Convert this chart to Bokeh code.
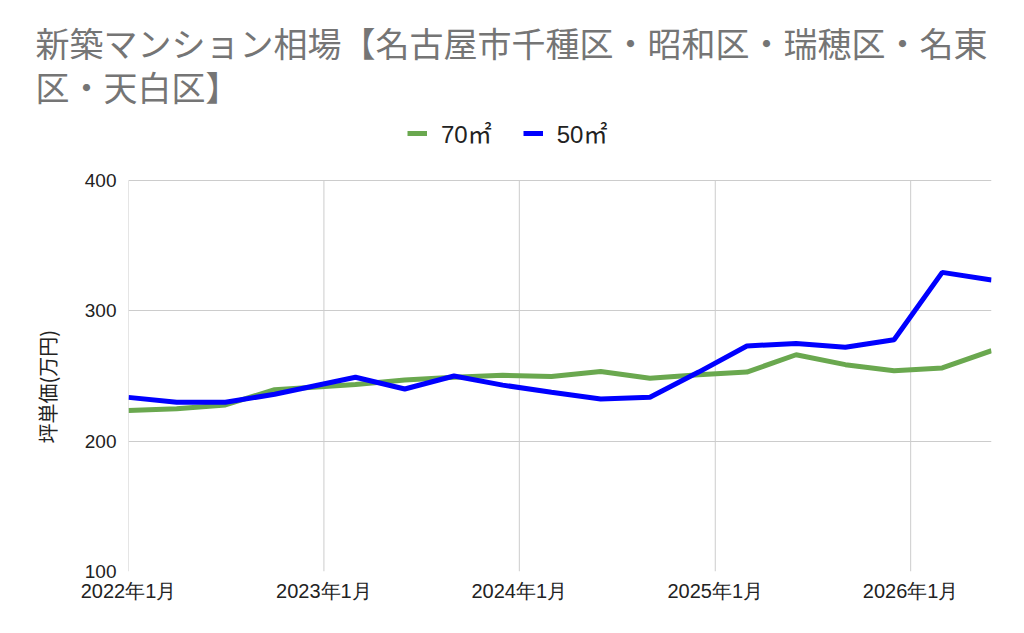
from datetime import datetime
from bokeh.plotting import figure
from bokeh.models import (FixedTicker, DatetimeTickFormatter, Title, Legend,
                          LegendItem, Range1d, ColumnDataSource)
from bokeh.embed import file_html
from bokeh.resources import INLINE

# ---- data ----
months = ["2022-01", "2022-04", "2022-07", "2022-10", "2023-03", "2023-06",
          "2023-09", "2023-12", "2024-03", "2024-06", "2024-09", "2024-12",
          "2025-03", "2025-06", "2025-09", "2025-12", "2026-03", "2026-06"]
price_70 = [223.5, 224.8, 227.8, 239.5, 243.5, 247.0, 249.0, 250.5, 249.6,
            253.5, 248.3, 251.0, 253.0, 266.3, 258.7, 254.1, 256.2, 269.4]
price_50 = [233.6, 229.8, 229.8, 236.0, 249.0, 240.0, 250.0, 243.0, 237.5,
            232.4, 233.7, 253.0, 273.0, 275.0, 272.0, 277.8, 329.5, 323.7]
year_ticks = ["2022-01", "2023-01", "2024-01", "2025-01", "2026-01"]
y_ticks = [100, 200, 300, 400]
title_line1 = "新築マンション相場【名古屋市千種区・昭和区・瑞穂区・名東"
title_line2 = "区・天白区】"
y_label = "坪単価(万円)"
series_names = ["70㎡", "50㎡"]

dates = [datetime.strptime(m, "%Y-%m") for m in months]
tick_dates = [datetime.strptime(t, "%Y-%m") for t in year_ticks]
tick_ms = [d.timestamp() * 1000 for d in tick_dates]

src = ColumnDataSource(dict(x=dates, a=price_70, b=price_50))

# frame: 112 px top border, 62 px bottom; y 100..400 spans 391 px, the extra
# 68 px above 400 hold the legend
FRAME_TOP, FRAME_BOTTOM, PLOT_TOP = 112, 571, 180
px_per_unit = (FRAME_BOTTOM - PLOT_TOP) / (y_ticks[-1] - y_ticks[0])
y_end = y_ticks[-1] + (PLOT_TOP - FRAME_TOP) / px_per_unit

p = figure(width=1024, height=633, x_axis_type="datetime",
           output_backend="svg", toolbar_location=None,
           min_border_left=128, min_border_right=33, min_border_bottom=62,
           min_border_top=FRAME_TOP)
p.x_range = Range1d(datetime(2022, 1, 1), datetime(2026, 6, 1))
p.y_range = Range1d(y_ticks[0], y_end)
p.outline_line_color = None

font = "Liberation Sans"

# vertical grid lines limited to the value range
p.segment(x0=tick_dates, x1=tick_dates, y0=y_ticks[0], y1=y_ticks[-1],
          line_color="#cccccc", line_width=1)

g = p.line("x", "a", source=src, line_color="#6aa84f", line_width=5)
b = p.line("x", "b", source=src, line_color="#0000ff", line_width=5)

# axes
p.xaxis.ticker = FixedTicker(ticks=tick_ms)
fmt = "%Y年%-m月"
p.xaxis.formatter = DatetimeTickFormatter(years=fmt, months=fmt, days=fmt,
                                          hours=fmt, minutes=fmt, seconds=fmt,
                                          milliseconds=fmt, microseconds=fmt)
p.yaxis.ticker = FixedTicker(ticks=y_ticks)
for ax in (p.xaxis, p.yaxis):
    ax.axis_line_color = None
    ax.major_tick_line_color = None
    ax.minor_tick_line_color = None
    ax.major_label_text_font = font
    ax.major_label_text_color = "#222222"
p.xaxis.major_label_text_font_size = "20px"
p.yaxis.major_label_text_font_size = "19px"
p.xaxis.major_label_standoff = 2
p.yaxis.major_label_standoff = 6

p.xgrid.visible = False
p.ygrid.ticker = FixedTicker(ticks=y_ticks)
p.ygrid.grid_line_color = "#cccccc"
p.ygrid.grid_line_width = 1

# y axis title, positioned along the value range
ty = Title(text=y_label, align="left", offset=128, standoff=40,
           text_font="Noto Sans CJK JP", text_font_size="20px",
           text_font_style="normal", text_color="#222222")
p.add_layout(ty, "left")

legend = Legend(items=[LegendItem(label=series_names[0], renderers=[g]),
                       LegendItem(label=series_names[1], renderers=[b])],
                orientation="horizontal", location=(279, 421),
                label_text_font="Liberation Sans, Noto Sans CJK JP",
                label_text_font_size="24px",
                label_text_color="#222222", glyph_width=20, glyph_height=24,
                label_standoff=14, spacing=31,
                border_line_color=None, background_fill_alpha=0,
                margin=0, padding=0)
p.add_layout(legend)

t2 = Title(text=title_line2, align="left", offset=-93,
           text_font="Noto Sans CJK JP", text_font_size="34px",
           text_font_style="normal", text_color="#757575", standoff=3)
t1 = Title(text=title_line1, align="left", offset=-93,
           text_font="Noto Sans CJK JP", text_font_size="34px",
           text_font_style="normal", text_color="#757575", standoff=-16)
p.add_layout(t2, "above")
p.add_layout(t1, "above")

open("out.html", "w").write(file_html(p, INLINE))
